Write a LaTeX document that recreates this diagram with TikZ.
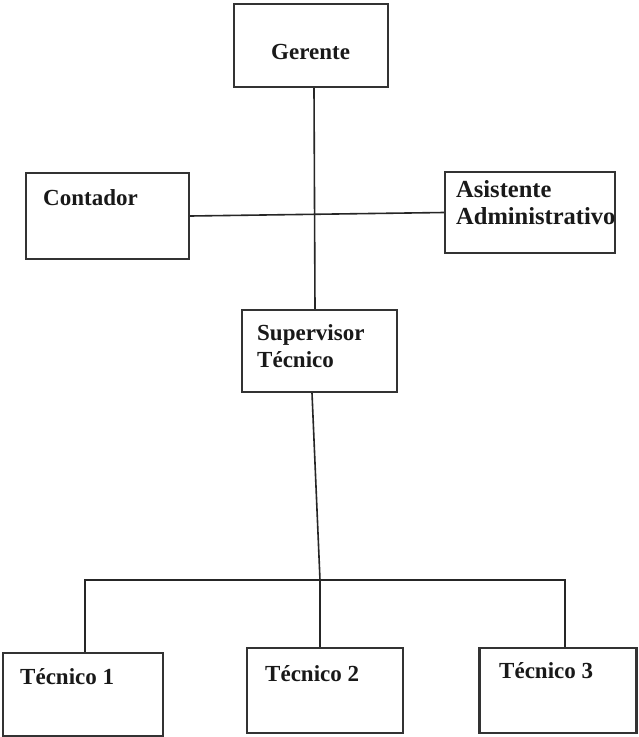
\documentclass[tikz,border=0pt]{standalone}
\usepackage{fontspec}
\setmainfont{Liberation Serif}
\begin{document}
\begin{tikzpicture}[x=1pt,y=-1pt,
  box/.style={draw=black!80,line width=2.2pt,fill=white,inner sep=0pt},
  conn/.style={draw=black!85,line width=1.6pt},
  lbl/.style={anchor=base west,inner sep=0pt,text=black!90,font=\fontsize{23}{27}\selectfont\bfseries},
  lblbig/.style={lbl,font=\fontsize{24.5}{29}\selectfont\bfseries}]
\useasboundingbox[fill=white] (0,0) rectangle (639,737);
% boxes
\node[box,minimum width=154pt,minimum height=83pt] (ger) at (311,45.5) {};
\node[box,minimum width=163pt,minimum height=86pt] (cont) at (107.5,216) {};
\node[box,minimum width=170pt,minimum height=81pt] (asis) at (530,212.5) {};
\node[box,minimum width=155pt,minimum height=82pt] (sup) at (319.5,351) {};
\node[box,minimum width=160pt,minimum height=83pt] (t1) at (83,694.5) {};
\node[box,minimum width=156pt,minimum height=85pt] (t2) at (325,690.5) {};
\node[box,minimum width=157pt,minimum height=85pt] (t3) at (558,690.5) {};
% connectors
\coordinate (bus) at (320,580);
\draw[conn] ([xshift=3pt]ger.south) -- ([xshift=-4.5pt]sup.north);
\draw[conn] (cont.east) -- (asis.west);
\draw[conn] ([xshift=-7.5pt]sup.south) -- (bus);
\draw[conn] ([xshift=2pt]t1.north) |- (bus) -| ([xshift=7pt]t3.north);
\draw[conn] (bus) -- ([xshift=-5pt]t2.north);
% labels
\node[lbl] (gerT) at (271,59) {Gerente};
\node[lbl] (contT) at (43,205) {Contador};
\begin{scope}
\clip (asis.south west) rectangle (asis.north east);
\node[lblbig] (asisT1) at (456,197) {Asistente};
\node[lblbig] (asisT2) at (456,224) {Administrativo};
\end{scope}
\node[lbl] (supT1) at (257,340) {Supervisor};
\node[lbl] (supT2) at (257,367) {Técnico};
\node[lbl] (t1T) at (20,684) {Técnico 1};
\node[lbl] (t2T) at (265,681) {Técnico 2};
\node[lbl] (t3T) at (499,678) {Técnico 3};
\end{tikzpicture}
\end{document}
